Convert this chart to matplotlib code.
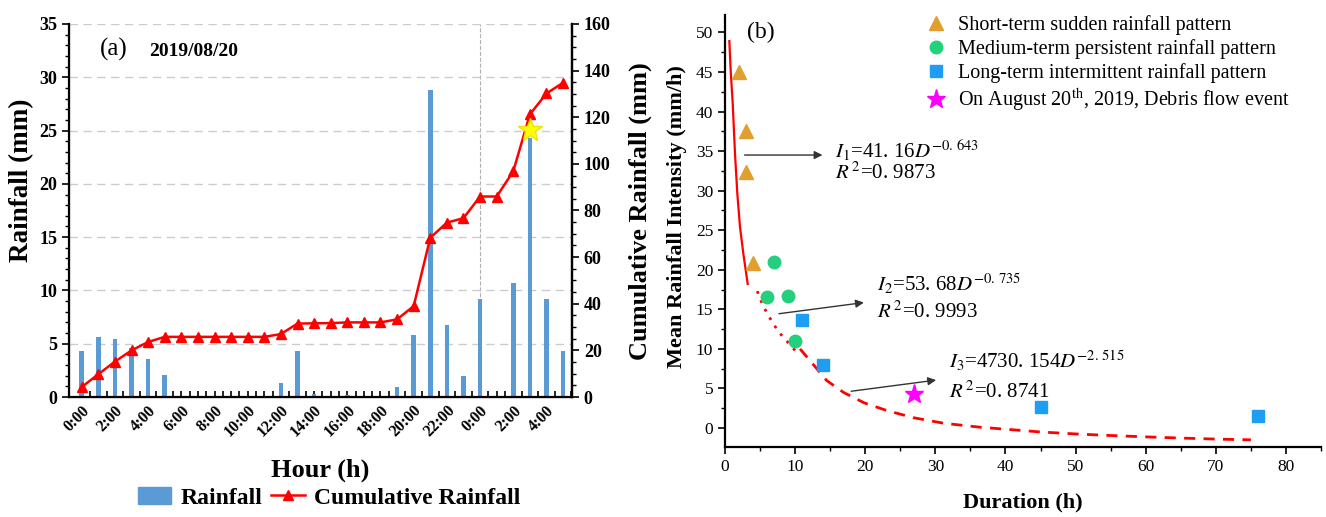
import matplotlib
matplotlib.use("Agg")
import matplotlib.pyplot as plt
from matplotlib.lines import Line2D
from matplotlib.patches import Patch
from matplotlib.ticker import MultipleLocator
import numpy as np

plt.rcParams['font.family'] = ['Liberation Serif', 'DejaVu Serif']
plt.rcParams['mathtext.fontset'] = 'stix'

# ---- (a) hourly rainfall, 2019/08/20 ----
hour_labels = ["0:00", "1:00", "2:00", "3:00", "4:00", "5:00", "6:00", "7:00",
               "8:00", "9:00", "10:00", "11:00", "12:00", "13:00", "14:00", "15:00",
               "16:00", "17:00", "18:00", "19:00", "20:00", "21:00", "22:00", "23:00",
               "0:00", "1:00", "2:00", "3:00", "4:00", "5:00"]
rainfall = [4.3, 5.6, 5.4, 4.6, 3.6, 2.1, 0, 0, 0, 0, 0, 0, 1.35, 4.3, 0.3,
            0, 0.2, 0, 0, 0.95, 5.8, 28.8, 6.8, 2.0, 9.2, 0, 10.7, 24.3, 9.2, 4.3]
cumulative = [4.3, 9.8, 15.2, 20.0, 23.6, 25.8, 25.8, 25.8, 25.8, 25.8, 25.8, 25.8,
              27.0, 31.5, 31.6, 31.7, 32.0, 32.0, 32.0, 33.3, 39.0, 68.3, 74.8, 76.7,
              86.0, 86.0, 96.8, 121.2, 130.2, 134.8]
event_hour = 27
event_cum = 114.4
day_break = 24

# ---- (b) I-D thresholds ----
short_d = [2, 3, 3, 4]
short_i = [45.0, 37.5, 32.4, 20.8]
medium_d = [7, 6, 9, 10]
medium_i = [21.0, 16.5, 16.7, 11.0]
long_d = [11, 14, 45, 76]
long_i = [13.6, 8.0, 2.7, 1.55]
event_d = [27]
event_i = [4.3]

fit1_d = [0.62, 0.81, 1.1, 1.43, 1.76, 2.14, 2.62, 3.24]
fit1_i = [48.9, 45.2, 41.0, 34.6, 29.6, 25.4, 22.0, 18.2]
fit2_d = [4.6, 5.3, 6.0, 7.0, 8.0, 9.0, 10.0]
fit2_i = [17.3, 15.7, 14.5, 13.0, 11.8, 10.8, 9.8]
fit3_d = [10.7, 12.9, 14.5, 16.9, 19.8, 23.1, 26.9, 31.2, 36.4, 40.0, 45.0,
          50.0, 55.0, 60.0, 65.0, 70.0, 75.0]
fit3_i = [10.0, 7.7, 6.0, 4.5, 3.2, 2.2, 1.3, 0.6, 0.1, -0.15, -0.5,
          -0.75, -0.95, -1.12, -1.27, -1.4, -1.5]

W, H = 1326, 517
fig = plt.figure(figsize=(W / 100, H / 100), dpi=100)

bar_color = '#5B9BD5'
ax1 = fig.add_axes([69 / W, 1 - 397 / H, 503 / W, 373 / H])
x = np.arange(len(hour_labels))
ax1.bar(x, rainfall, width=0.28, color=bar_color, zorder=2)
ax1.set_xlim(-0.77, 29.54)
ax1.set_ylim(0, 35)
ax1.yaxis.set_major_locator(MultipleLocator(5))
ax1.yaxis.set_minor_locator(MultipleLocator(1))
ax1.set_xticks(x)
ax1.set_xticklabels([lab if i % 2 == 0 else "" for i, lab in enumerate(hour_labels)],
                    rotation=45, ha='right', rotation_mode='anchor',
                    fontsize=11.5, fontweight='bold')
ax1.set_xticks(x + 0.5, minor=True)
ax1.tick_params(axis='x', which='both', direction='in', length=4, width=1.2, pad=4)
ax1.tick_params(axis='y', which='major', direction='out', length=5, width=1.2,
                labelsize=13)
ax1.tick_params(axis='y', which='minor', direction='out', length=3, width=1)
for lab in ax1.get_yticklabels():
    lab.set_fontweight('bold')
ax1.grid(axis='y', linestyle=(0, (6, 4)), color='#cccccc', lw=1, zorder=0)
ax1.axvline(day_break, color='#b0b0b0', ls='--', lw=0.8, zorder=1)
ax1.spines['top'].set_visible(False)
for s in ['left', 'bottom', 'right']:
    ax1.spines[s].set_linewidth(1.6)

ax2 = ax1.twinx()
ax2.plot(x, cumulative, color='red', marker='^', ms=7, lw=1.8, zorder=3)
ax2.plot(event_hour, event_cum, marker='*', ms=18, color='#FFFF00', mec='#F0E000',
         ls='none', zorder=4)
ax2.set_ylim(0, 160)
ax2.yaxis.set_major_locator(MultipleLocator(20))
ax2.yaxis.set_minor_locator(MultipleLocator(5))
ax2.tick_params(axis='y', which='major', direction='out', length=5, width=1.2,
                labelsize=13)
ax2.tick_params(axis='y', which='minor', direction='out', length=3, width=1)
for lab in ax2.get_yticklabels():
    lab.set_fontweight('bold')
ax2.spines['top'].set_visible(False)
ax2.spines['right'].set_linewidth(1.6)

ax1.text(1.1, 32.6, "(a)", fontsize=18, va='center')
ax1.text(4.05, 32.4, "2019/08/20", fontsize=14, fontweight='bold', va='center')

fig.text(22 / W, 1 - 180 / H, "Rainfall (mm)", rotation=90, fontsize=19.5,
         fontweight='bold', ha='center', va='center')
fig.text(640 / W, 1 - 211 / H, "Cumulative Rainfall (mm)", rotation=90, fontsize=19,
         fontweight='bold', ha='center', va='center')
fig.text(320 / W, 1 - 470 / H, "Hour (h)", fontsize=19, fontweight='bold',
         ha='center', va='center')

leg_handles = [Patch(color=bar_color),
               Line2D([], [], color='red', marker='^', lw=1.8, ms=7)]
fig.legend(leg_handles, ["Rainfall", "Cumulative Rainfall"], loc='center',
           bbox_to_anchor=(329 / W, 1 - 498 / H), ncol=2, frameon=False,
           prop=dict(weight='bold', size=17), handlelength=1.4,
           columnspacing=0.4, handletextpad=0.4, borderpad=0)

# ---- panel (b) ----
ax3 = fig.add_axes([725 / W, 1 - 447 / H, 596 / W, 432 / H])
ax3.plot(fit1_d, fit1_i, color='red', lw=1.6)
ax3.plot(fit2_d, fit2_i, color='red', lw=2, ls=(0, (1, 2.5)))
ax3.plot(fit3_d, fit3_i, color='red', lw=2, ls=(0, (4, 3)))

tri_c, cir_c, sq_c, star_c = '#E0A030', '#22D07E', '#1E9EF2', '#FF00FF'
h_short, = ax3.plot(short_d, short_i, ls='none', marker='^', ms=10, color=tri_c)
h_med, = ax3.plot(medium_d, medium_i, ls='none', marker='o', ms=9, color=cir_c)
h_long, = ax3.plot(long_d, long_i, ls='none', marker='s', ms=8, color=sq_c)
h_evt, = ax3.plot(event_d, event_i, ls='none', marker='*', ms=14, color=star_c)

ax3.set_xlim(0, 85)
ax3.set_ylim(-2.4, 52.2)
ax3.xaxis.set_major_locator(MultipleLocator(10))
ax3.xaxis.set_minor_locator(MultipleLocator(5))
ax3.yaxis.set_major_locator(MultipleLocator(5))
ax3.yaxis.set_minor_locator(MultipleLocator(2.5))
ax3.tick_params(which='major', direction='out', length=5, width=1.2, labelsize=12.5)
ax3.tick_params(which='minor', direction='out', length=3, width=1)
ax3.spines['top'].set_visible(False)
ax3.spines['right'].set_visible(False)
for s in ['left', 'bottom']:
    ax3.spines[s].set_linewidth(1.6)

arrow_kw = dict(arrowstyle='-|>', color='#333333', lw=1.0, mutation_scale=12)
ax3.annotate('', xy=(14.3, 34.5), xytext=(2.4, 34.5), arrowprops=arrow_kw)
ax3.annotate('', xy=(20.2, 15.9), xytext=(7.3, 14.4), arrowprops=arrow_kw)
ax3.annotate('', xy=(30.5, 6.1), xytext=(17.6, 4.6), arrowprops=arrow_kw)

eq_size = 15
ax3.text(15.7, 35.0, r'$I_1$=41. 16$D^{-0.\,643}$', fontsize=eq_size, va='center')
ax3.text(15.7, 32.2, r'$R^{\,2}$=0. 9873', fontsize=eq_size, va='center')
ax3.text(21.7, 18.2, r'$I_2$=53. 68$D^{-0.\,735}$', fontsize=eq_size, va='center')
ax3.text(21.7, 14.6, r'$R^{\,2}$=0. 9993', fontsize=eq_size, va='center')
ax3.text(32.0, 8.5, r'$I_3$=4730. 154$D^{-2.\,515}$', fontsize=eq_size, va='center')
ax3.text(32.0, 4.5, r'$R^{\,2}$=0. 8741', fontsize=eq_size, va='center')
ax3.text(3.1, 50.0, "(b)", fontsize=17, va='center')

ax3.legend([h_short, h_med, h_long, h_evt],
           ["Short-term sudden rainfall pattern",
            "Medium-term persistent rainfall pattern",
            "Long-term intermittent rainfall pattern",
            r"On August 20$^{\mathrm{th}}$, 2019, Debris flow event"],
           loc='upper left', bbox_to_anchor=(916 / W, 1 - 5 / H),
           bbox_transform=fig.transFigure, frameon=False, fontsize=14.5,
           handlelength=1.0, handletextpad=0.6, labelspacing=0.2, borderpad=0)

fig.text(677 / W, 1 - 217 / H, "Mean Rainfall Intensity (mm/h)", rotation=90,
         fontsize=16, fontweight='bold', ha='center', va='center')
fig.text(1023 / W, 1 - 502 / H, "Duration (h)", fontsize=16, fontweight='bold',
         ha='center', va='center')

fig.savefig("out.png", dpi=100)
